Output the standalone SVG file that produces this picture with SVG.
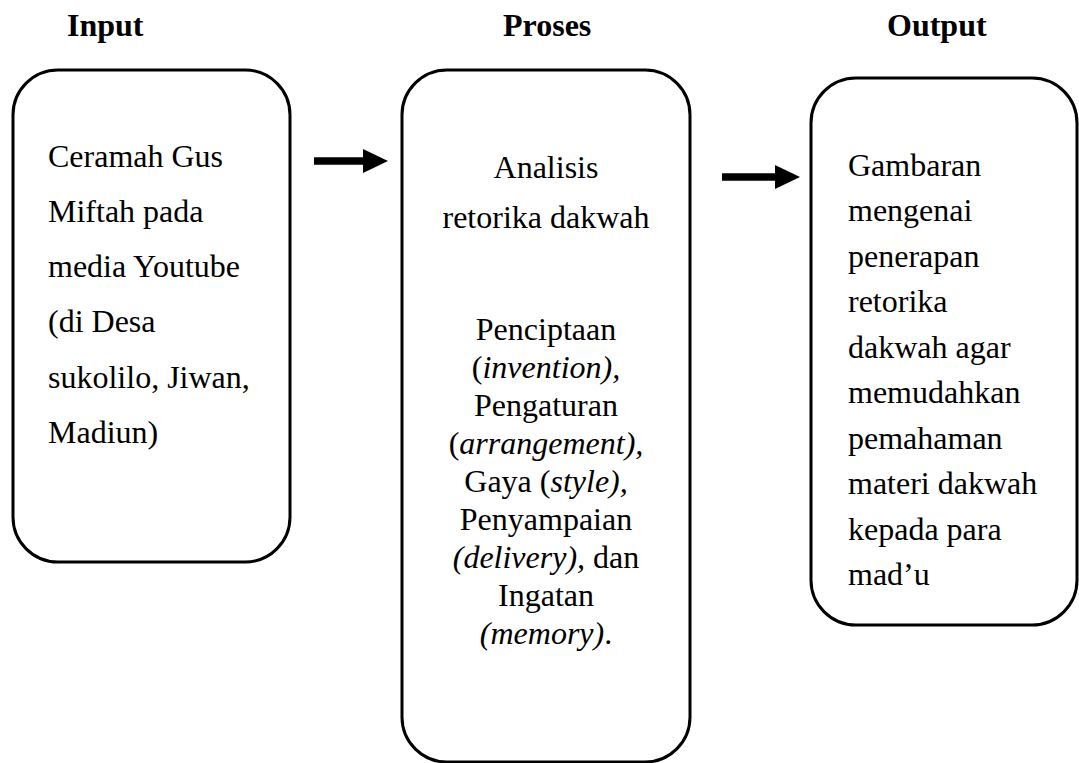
<svg xmlns="http://www.w3.org/2000/svg" width="1079" height="763" viewBox="0 0 1079 763">
<style>
.box{fill:#fff;stroke:#000;stroke-width:3}
.c{text-anchor:middle}
.conn{stroke:#000;stroke-width:7.5;fill:none}
</style>
<defs>
<marker id="ah" markerWidth="25" markerHeight="24" refX="1" refY="12" orient="auto" markerUnits="userSpaceOnUse">
<path d="M0,0 L25,12 L0,24 Z" fill="#000"/>
</marker>
</defs>
<rect width="1079" height="763" fill="#fff"/>
<g id="headings" font-family="Liberation Serif" font-weight="bold" font-size="32" fill="#000">
<text x="67" y="36">Input</text>
<text x="503" y="36">Proses</text>
<text x="887" y="36">Output</text>
</g>
<g id="input" font-family="Liberation Serif" font-size="32" fill="#000">
<rect class="box" x="13" y="70" width="277" height="492" rx="45" ry="45"/>
<text x="48" y="167">Ceramah Gus</text>
<text x="48" y="222">Miftah pada</text>
<text x="48" y="277">media Youtube</text>
<text x="48" y="332">(di Desa</text>
<text x="48" y="388">sukolilo, Jiwan,</text>
<text x="48" y="443">Madiun)</text>
</g>
<g id="proses" font-family="Liberation Serif" font-size="32" fill="#000">
<rect class="box" x="402" y="70" width="288" height="692" rx="45" ry="45"/>
<text class="c" x="546" y="178">Analisis</text>
<text class="c" x="546" y="228">retorika dakwah</text>
<text class="c" x="546" y="340">Penciptaan</text>
<text class="c" x="546" y="378">(<tspan font-style="italic">invention),</tspan></text>
<text class="c" x="546" y="416">Pengaturan</text>
<text class="c" x="546" y="454">(<tspan font-style="italic">arrangement),</tspan></text>
<text class="c" x="546" y="492">Gaya (<tspan font-style="italic">style),</tspan></text>
<text class="c" x="546" y="530">Penyampaian</text>
<text class="c" x="546" y="568"><tspan font-style="italic">(delivery),</tspan> dan</text>
<text class="c" x="546" y="606">Ingatan</text>
<text class="c" x="546" y="644"><tspan font-style="italic">(memory)</tspan>.</text>
</g>
<g id="output" font-family="Liberation Serif" font-size="32" fill="#000">
<rect class="box" x="811" y="78" width="266" height="547" rx="45" ry="45"/>
<text x="848" y="176">Gambaran</text>
<text x="848" y="221">mengenai</text>
<text x="848" y="267">penerapan</text>
<text x="848" y="312">retorika</text>
<text x="848" y="358">dakwah agar</text>
<text x="848" y="403">memudahkan</text>
<text x="848" y="449">pemahaman</text>
<text x="848" y="494">materi dakwah</text>
<text x="848" y="540">kepada para</text>
<text x="848" y="585">mad’u</text>
</g>
<g id="connectors">
<line class="conn" x1="314" y1="161" x2="364" y2="161" marker-end="url(#ah)"/>
<line class="conn" x1="722" y1="177" x2="776" y2="177" marker-end="url(#ah)"/>
</g>
</svg>
